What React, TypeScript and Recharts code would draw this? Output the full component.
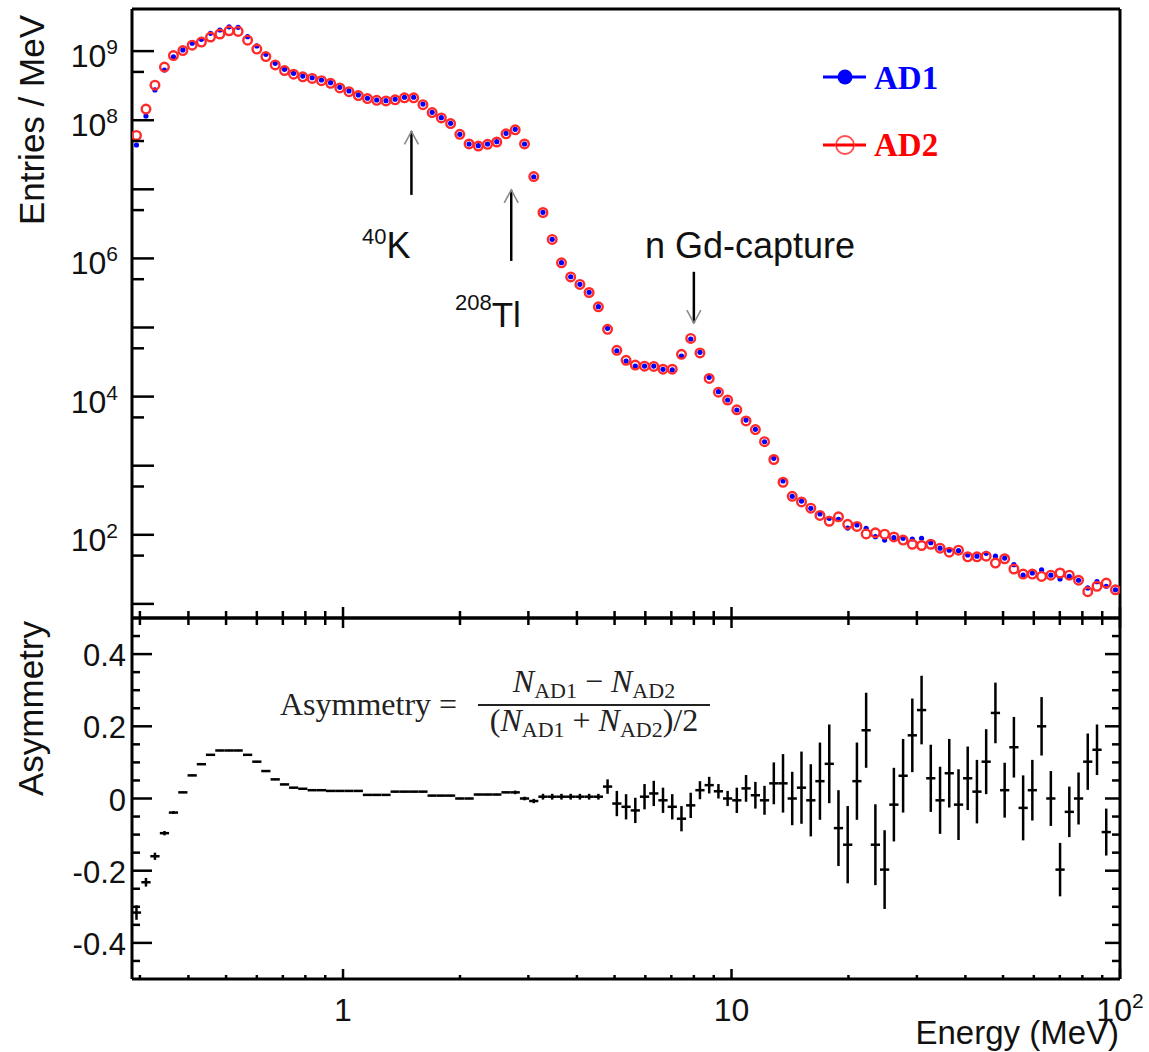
import React from 'react';
import { ComposedChart, Scatter, XAxis, YAxis, ErrorBar, ReferenceLine } from 'recharts';

// ---------- data ----------
// bin centres (MeV), log-uniform bins
const ENERGY = [
  0.294, 0.311, 0.328, 0.347, 0.366, 0.387, 0.409, 0.432, 0.456, 0.482,
  0.509, 0.537, 0.568, 0.600, 0.633, 0.669, 0.707, 0.746, 0.788, 0.833,
  0.880, 0.929, 0.981, 1.036, 1.095, 1.156, 1.221, 1.290, 1.362, 1.439,
  1.520, 1.606, 1.696, 1.791, 1.892, 1.998, 2.111, 2.230, 2.355, 2.488,
  2.628, 2.775, 2.932, 3.097, 3.271, 3.455, 3.650, 3.855, 4.071, 4.300,
  4.543, 4.797, 5.068, 5.353, 5.654, 5.972, 6.308, 6.663, 7.038, 7.434,
  7.852, 8.294, 8.761, 9.254, 9.772, 10.32, 10.90, 11.52, 12.16, 12.85,
  13.57, 14.33, 15.14, 16.00, 16.89, 17.85, 18.85, 19.91, 21.03, 22.21,
  23.46, 24.78, 26.18, 27.65, 29.20, 30.85, 32.58, 34.42, 36.35, 38.40,
  40.55, 42.83, 45.24, 47.79, 50.48, 53.32, 56.32, 59.48, 62.83, 66.37,
  70.10, 74.05, 78.22, 82.60, 87.26, 92.17, 97.34,
];
// log10 width of one bin
const BIN_LOG_WIDTH = 0.02377;

const AD1 = [
  4.38e7, 1.15e8, 2.74e8, 5.33e8, 8.29e8, 1.04e9, 1.30e9, 1.48e9, 1.81e9, 2.02e9,
  2.25e9, 2.21e9, 1.62e9, 1.19e9, 8.99e8, 6.66e8, 5.45e8, 4.77e8, 4.36e8, 4.12e8,
  3.82e8, 3.49e8, 2.99e8, 2.65e8, 2.32e8, 2.08e8, 1.96e8, 1.92e8, 2.01e8, 2.15e8,
  2.15e8, 1.71e8, 1.30e8, 1.09e8, 9.01e7, 6.25e7, 4.53e7, 4.28e7, 4.53e7, 4.89e7,
  6.46e7, 7.38e7, 4.53e7, 1.52e7, 4.64e6, 1.89e6, 8.67e5, 5.43e5, 4.22e5, 3.23e5,
  2.00e5, 9.73e4, 4.61e4, 3.27e4, 2.77e4, 2.77e4, 2.77e4, 2.48e4, 2.43e4, 3.87e4,
  6.82e4, 4.38e4, 1.90e4, 1.18e4, 8.93e3, 6.40e3, 4.58e3, 3.36e3, 2.22e3, 1.28e3,
  601, 361, 308, 242, 200, 173, 168, 125, 139, 124,
  94, 84, 91, 89, 87, 89, 77, 64, 60, 59,
  51, 49, 54, 49, 46, 37, 26, 28, 31, 26,
  23, 25, 22, 17, 21, 18, 16,
];

const AD2 = [
  6.02e7, 1.45e8, 3.22e8, 5.87e8, 8.62e8, 1.02e9, 1.22e9, 1.35e9, 1.60e9, 1.77e9,
  1.97e9, 1.93e9, 1.44e9, 1.07e9, 8.33e8, 6.31e8, 5.24e8, 4.63e8, 4.24e8, 4.03e8,
  3.73e8, 3.42e8, 2.93e8, 2.59e8, 2.27e8, 2.06e8, 1.94e8, 1.90e8, 1.97e8, 2.11e8,
  2.11e8, 1.68e8, 1.29e8, 1.08e8, 8.94e7, 6.25e7, 4.53e7, 4.23e7, 4.48e7, 4.84e7,
  6.35e7, 7.26e7, 4.53e7, 1.53e7, 4.62e6, 1.88e6, 8.63e5, 5.40e5, 4.20e5, 3.21e5,
  1.99e5, 9.41e4, 4.67e4, 3.35e4, 2.86e4, 2.76e4, 2.73e4, 2.49e4, 2.49e4, 4.09e4,
  6.95e4, 4.28e4, 1.83e4, 1.16e4, 8.93e3, 6.43e3, 4.45e3, 3.33e3, 2.23e3, 1.23e3,
  576, 361, 299, 243, 191, 157, 182, 142, 132, 103,
  107, 102, 93, 84, 73, 70, 73, 64, 56, 60,
  48, 48, 49, 39, 45, 32, 27, 27, 25, 26,
  28, 26, 22, 15, 18, 20, 16,
];

const ASYM: (number | null)[] = [
  -0.316, -0.232, -0.16, -0.096, -0.039, 0.017, 0.064, 0.095, 0.121, 0.133,
  0.133, 0.133, 0.121, 0.102, 0.076, 0.053, 0.039, 0.03, 0.027, 0.023,
  0.023, 0.021, 0.021, 0.021, 0.021, 0.01, 0.01, 0.01, 0.019, 0.019,
  0.019, 0.019, 0.008, 0.008, 0.008, 0.0, 0.0, 0.011, 0.011, 0.011,
  0.017, 0.017, 0.0, -0.007, 0.005, 0.005, 0.005, 0.005, 0.005, 0.005,
  0.005, 0.033, -0.014, -0.023, -0.033, 0.005, 0.014, -0.005, -0.023, -0.056,
  -0.019, 0.023, 0.037, 0.02, 0.0, -0.005, 0.028, 0.009, -0.005, 0.042,
  0.042, 0.0, 0.03, -0.005, 0.048, 0.096, -0.082, -0.128, 0.048, 0.189,
  -0.128, -0.197, -0.017, 0.063, 0.175, 0.245, 0.056, -0.005, 0.07, -0.017,
  0.056, 0.019, 0.102, 0.237, 0.023, 0.142, -0.026, 0.023, 0.2, 0.0,
  -0.197, -0.037, 0.0, 0.102, 0.135, -0.093, null,
];

const ASYM_ERR = [
  0.02, 0.012, 0.01, 0.006, 0.004, 0.002, 0.002, 0.002, 0.002, 0.002,
  0.002, 0.002, 0.002, 0.002, 0.002, 0.002, 0.002, 0.002, 0.002, 0.002,
  0.002, 0.002, 0.002, 0.002, 0.002, 0.002, 0.002, 0.002, 0.002, 0.002,
  0.002, 0.002, 0.002, 0.002, 0.002, 0.002, 0.002, 0.002, 0.002, 0.002,
  0.002, 0.005, 0.005, 0.006, 0.008, 0.008, 0.008, 0.008, 0.008, 0.008,
  0.008, 0.02, 0.035, 0.035, 0.035, 0.035, 0.035, 0.035, 0.035, 0.035,
  0.035, 0.025, 0.023, 0.02, 0.021, 0.035, 0.037, 0.037, 0.04, 0.058,
  0.081, 0.074, 0.1, 0.1, 0.107, 0.109, 0.105, 0.107, 0.107, 0.104,
  0.112, 0.109, 0.102, 0.102, 0.102, 0.095, 0.093, 0.093, 0.095, 0.098,
  0.088, 0.088, 0.09, 0.084, 0.076, 0.084, 0.09, 0.084, 0.081, 0.076,
  0.074, 0.07, 0.072, 0.078, 0.07, 0.065, 0,
];

// axis ticks
const X_TICKS = [0.3, 0.4, 0.5, 0.6, 0.7, 0.8, 0.9, 1, 2, 3, 4, 5, 6, 7, 8, 9, 10, 20, 30, 40, 50, 60, 70, 80, 90, 100];
const X_MAJOR = [1, 10, 100];
const Y_TOP_TICKS = [10, 50, 100, 500, 1e3, 5e3, 1e4, 5e4, 1e5, 5e5, 1e6, 5e6, 1e7, 5e7, 1e8, 5e8, 1e9];
const Y_TOP_LABELED_EXP = [2, 4, 6, 8, 9];
const Y_BOT_TICKS = [-0.45, -0.4, -0.35, -0.3, -0.25, -0.2, -0.15, -0.1, -0.05, 0, 0.05, 0.1, 0.15, 0.2, 0.25, 0.3, 0.35, 0.4, 0.45];
const Y_BOT_MAJOR = [-0.4, -0.2, 0, 0.2, 0.4];
const Y_BOT_LABELS = ['-0.4', '-0.2', '0', '0.2', '0.4'];

// annotation arrows (MeV, entries/MeV)
const ARROWS = [
  { name: '40K', x: 1.5, from: 8.3e6, to: 6.9e7 },
  { name: '208Tl', x: 2.71, from: 9.2e5, to: 9.8e6 },
  { name: 'nGd', x: 8.0, from: 6.4e5, to: 1.16e5 },
];

const X_DOMAIN: [number, number] = [0.2863, 100];
const Y_TOP_DOMAIN: [number, number] = [6.25, 4.07e9];
const Y_BOT_DOMAIN: [number, number] = [-0.5, 0.5];

// ---------- derived tables ----------
const ad1Data = ENERGY.map((e, i) => ({ e, y: AD1[i] }));
const ad2Data = ENERGY.map((e, i) => ({ e, y: AD2[i] }));
const asymData = ENERGY.map((e, i) => ({
  e,
  y: ASYM[i],
  yerr: ASYM_ERR[i],
  xerr: [e - e * Math.pow(10, -BIN_LOG_WIDTH / 2), e * Math.pow(10, BIN_LOG_WIDTH / 2) - e],
})).filter((d) => d.y !== null);

const SANS = '"Liberation Sans", Arial, Helvetica, sans-serif';
const SERIF = '"Liberation Serif", "Times New Roman", serif';
const BLACK = '#000';

const near = (a: number, b: number) => Math.abs(a - b) < 1e-9 * Math.max(1, Math.abs(b));
const isMajorX = (v: number) => X_MAJOR.some((m) => near(v, m));

// ---------- tick renderers ----------
const XTickUp = (props: any) => {
  const { x, y, payload } = props;
  const major = isMajorX(payload.value);
  return <line x1={x} y1={y} x2={x} y2={y - (major ? 11 : 7)} stroke={BLACK} strokeWidth={2.5} />;
};
const XTickDown = (props: any) => {
  const { x, y, payload } = props;
  const major = isMajorX(payload.value);
  return <line x1={x} y1={y} x2={x} y2={y + (major ? 10 : 7)} stroke={BLACK} strokeWidth={2.5} />;
};
const XTickBottom = (props: any) => {
  const { x, y, payload } = props;
  const v = payload.value;
  const major = isMajorX(v);
  let label: React.ReactNode = null;
  if (near(v, 1)) label = '1';
  else if (near(v, 10)) label = '10';
  else if (near(v, 100))
    label = (
      <>
        <tspan>10</tspan>
        <tspan dy={-13} fontSize={21}>2</tspan>
      </>
    );
  return (
    <g>
      <line x1={x} y1={y} x2={x} y2={y - (major ? 10 : 4)} stroke={BLACK} strokeWidth={2.5} />
      {label !== null && (
        <text x={x} y={y + 42} textAnchor="middle" fontFamily={SANS} fontSize={32} fill="#111">
          {label}
        </text>
      )}
    </g>
  );
};
const YTickTop = (props: any) => {
  const { x, y, payload } = props;
  const v = payload.value as number;
  const exp = Math.round(Math.log10(v));
  const major = near(v, Math.pow(10, exp));
  const showLabel = major && Y_TOP_LABELED_EXP.includes(exp);
  return (
    <g>
      <line x1={x} y1={y} x2={x + (major ? 22 : 12)} y2={y} stroke={BLACK} strokeWidth={2.5} />
      {showLabel && (
        <text x={x - 14} y={y + 16} textAnchor="end" fontFamily={SANS} fontSize={32} fill="#111">
          <tspan>10</tspan>
          <tspan dy={-13} fontSize={21}>{String(exp)}</tspan>
        </text>
      )}
    </g>
  );
};
const YTickBotLeft = (props: any) => {
  const { x, y, payload } = props;
  const v = payload.value as number;
  const mi = Y_BOT_MAJOR.findIndex((m) => Math.abs(m - v) < 1e-6);
  const major = mi >= 0;
  return (
    <g>
      <line x1={x} y1={y} x2={x + (major ? 20 : 8)} y2={y} stroke={BLACK} strokeWidth={2.5} />
      {major && (
        <text x={x - 6} y={y + 12} textAnchor="end" fontFamily={SANS} fontSize={31} fill="#111">
          {Y_BOT_LABELS[mi]}
        </text>
      )}
    </g>
  );
};
const YTickBotRight = (props: any) => {
  const { x, y, payload } = props;
  const v = payload.value as number;
  const major = Y_BOT_MAJOR.some((m) => Math.abs(m - v) < 1e-6);
  return <line x1={x} y1={y} x2={x - (major ? 15 : 8)} y2={y} stroke={BLACK} strokeWidth={2.5} />;
};

const ArrowShape = (props: any) => {
  const { x1, y1, x2, y2 } = props;
  if ([x1, y1, x2, y2].some((v) => typeof v !== 'number' || isNaN(v))) return <g />;
  const dx = x2 - x1;
  const dy = y2 - y1;
  const L = Math.hypot(dx, dy) || 1;
  const ux = dx / L;
  const uy = dy / L;
  const hl = 13;
  const hw = 7;
  const bx = x2 - ux * hl;
  const by = y2 - uy * hl;
  return (
    <g>
      <line x1={x1} y1={y1} x2={x2} y2={y2} stroke={BLACK} strokeWidth={2.5} />
      <polyline
        points={`${bx - uy * hw},${by + ux * hw} ${x2},${y2} ${bx + uy * hw},${by - ux * hw}`}
        fill="none"
        stroke="#8a8a8a"
        strokeWidth={1.6}
      />
    </g>
  );
};

const Ad1Dot = (p: any) => <circle cx={p.cx} cy={p.cy} r={2.6} fill="#0000ff" />;
const Ad2Ring = (p: any) => (
  <circle cx={p.cx} cy={p.cy} r={4.3} fill="none" stroke="#ff2a2a" strokeWidth={2.4} />
);
const NoShape = () => <g />;

const axisLine = { stroke: BLACK, strokeWidth: 3 };

export default function App() {
  return (
    <div style={{ position: 'absolute', left: 0, top: 0, width: 1149, height: 1052, background: '#fff' }}>
      {/* upper panel: spectra */}
      <div style={{ position: 'absolute', left: 0, top: 0 }}>
        <ComposedChart width={1149} height={622} margin={{ top: 8, right: 28, bottom: 3, left: 131 }}>
          <XAxis
            dataKey="e"
            type="number"
            scale="log"
            domain={X_DOMAIN}
            allowDataOverflow
            ticks={X_TICKS}
            interval={0}
            height={1}
            tickSize={0}
            tickMargin={0}
            tickLine={false}
            axisLine={axisLine}
            tick={(p: any) => <XTickUp {...p} />}
          />
          <XAxis
            xAxisId="t"
            orientation="top"
            dataKey="e"
            type="number"
            scale="log"
            domain={X_DOMAIN}
            allowDataOverflow
            height={1}
            tick={false}
            tickLine={false}
            axisLine={axisLine}
          />
          <YAxis
            dataKey="y"
            type="number"
            scale="log"
            domain={Y_TOP_DOMAIN}
            allowDataOverflow
            ticks={Y_TOP_TICKS}
            interval={0}
            width={1}
            tickSize={0}
            tickMargin={0}
            tickLine={false}
            axisLine={axisLine}
            tick={(p: any) => <YTickTop {...p} />}
          />
          <YAxis
            yAxisId="r"
            orientation="right"
            type="number"
            scale="log"
            domain={Y_TOP_DOMAIN}
            allowDataOverflow
            width={1}
            tick={false}
            tickLine={false}
            axisLine={axisLine}
          />
          <Scatter name="AD1" data={ad1Data} dataKey="y" shape={Ad1Dot} isAnimationActive={false} />
          <Scatter name="AD2" data={ad2Data} dataKey="y" shape={Ad2Ring} isAnimationActive={false} />
          {ARROWS.map((a) => (
            <ReferenceLine
              key={a.name}
              segment={[
                { x: a.x, y: a.from },
                { x: a.x, y: a.to },
              ]}
              ifOverflow="visible"
              shape={ArrowShape}
            />
          ))}
        </ComposedChart>
      </div>

      {/* lower panel: asymmetry */}
      <div style={{ position: 'absolute', left: 0, top: 0 }}>
        <ComposedChart width={1149} height={1052} margin={{ top: 617, right: 28, bottom: 72, left: 131 }}>
          <XAxis
            dataKey="e"
            type="number"
            scale="log"
            domain={X_DOMAIN}
            allowDataOverflow
            ticks={X_TICKS}
            interval={0}
            height={1}
            tickSize={0}
            tickMargin={0}
            tickLine={false}
            axisLine={axisLine}
            tick={(p: any) => <XTickBottom {...p} />}
          />
          <XAxis
            xAxisId="t"
            orientation="top"
            dataKey="e"
            type="number"
            scale="log"
            domain={X_DOMAIN}
            allowDataOverflow
            ticks={X_TICKS}
            interval={0}
            height={1}
            tickSize={0}
            tickMargin={0}
            tickLine={false}
            axisLine={axisLine}
            tick={(p: any) => <XTickDown {...p} />}
          />
          <YAxis
            dataKey="y"
            type="number"
            domain={Y_BOT_DOMAIN}
            allowDataOverflow
            ticks={Y_BOT_TICKS}
            interval={0}
            width={1}
            tickSize={0}
            tickMargin={0}
            tickLine={false}
            axisLine={axisLine}
            tick={(p: any) => <YTickBotLeft {...p} />}
          />
          <YAxis
            yAxisId="r"
            orientation="right"
            type="number"
            domain={Y_BOT_DOMAIN}
            allowDataOverflow
            ticks={Y_BOT_TICKS}
            interval={0}
            width={1}
            tickSize={0}
            tickMargin={0}
            tickLine={false}
            axisLine={axisLine}
            tick={(p: any) => <YTickBotRight {...p} />}
          />
          <Scatter name="Asymmetry" data={asymData} dataKey="y" shape={NoShape} isAnimationActive={false}>
            <ErrorBar dataKey="xerr" direction="x" width={0} stroke={BLACK} strokeWidth={2.5} isAnimationActive={false} />
            <ErrorBar dataKey="yerr" direction="y" width={0} stroke={BLACK} strokeWidth={2.5} isAnimationActive={false} />
          </Scatter>
        </ComposedChart>
      </div>

      {/* titles, legend, annotations */}
      <svg
        width={1149}
        height={1052}
        style={{ position: 'absolute', left: 0, top: 0, pointerEvents: 'none' }}
      >
        <text x={44} y={15} transform="rotate(-90 44 15)" textAnchor="end" fontFamily={SANS} fontSize={35} fill="#111">
          Entries / MeV
        </text>
        <text x={43} y={621} transform="rotate(-90 43 621)" textAnchor="end" fontFamily={SANS} fontSize={35} fill="#111">
          Asymmetry
        </text>
        <text x={1119} y={1044} textAnchor="end" fontFamily={SANS} fontSize={33} fill="#111">
          Energy (MeV)
        </text>

        {/* legend */}
        <line x1={823} y1={77} x2={866} y2={77} stroke="#0000ff" strokeWidth={3} />
        <circle cx={845} cy={77} r={7.5} fill="#0000ff" />
        <text x={874} y={89} fill="#0000ff" fontFamily={SERIF} fontWeight="bold" fontSize={33}>
          AD1
        </text>
        <line x1={823} y1={145} x2={866} y2={145} stroke="#ff0000" strokeWidth={3} />
        <circle cx={845} cy={145} r={9} fill="#fff" stroke="#ff5050" strokeWidth={1.8} />
        <line x1={836} y1={145} x2={854} y2={145} stroke="#ff0000" strokeWidth={3} />
        <text x={874} y={156} fill="#ff0000" fontFamily={SERIF} fontWeight="bold" fontSize={33}>
          AD2
        </text>

        {/* peak labels */}
        <text x={362} y={258} fontFamily={SANS} fill="#111">
          <tspan fontSize={22} dy={-14}>40</tspan>
          <tspan fontSize={36} dy={14}>K</tspan>
        </text>
        <text x={455} y={327} fontFamily={SANS} fill="#111">
          <tspan fontSize={22} dy={-17}>208</tspan>
          <tspan fontSize={35} dy={17}>Tl</tspan>
        </text>
        <text x={645} y={258} fontFamily={SANS} fontSize={36} fill="#111">
          n Gd-capture
        </text>

        {/* asymmetry formula */}
        <text x={280} y={715} fontFamily={SERIF} fontSize={32} fill="#222">
          Asymmetry =
        </text>
        <line x1={478} y1={705} x2={710} y2={705} stroke="#222" strokeWidth={2} />
        <text x={594} y={692} textAnchor="middle" fontFamily={SERIF} fontSize={32} fill="#222">
          <tspan fontStyle="italic">N</tspan>
          <tspan fontSize={22} dy={6}>AD1</tspan>
          <tspan dy={-6}> − </tspan>
          <tspan fontStyle="italic">N</tspan>
          <tspan fontSize={22} dy={6}>AD2</tspan>
        </text>
        <text x={594} y={731} textAnchor="middle" fontFamily={SERIF} fontSize={32} fill="#222">
          <tspan>(</tspan>
          <tspan fontStyle="italic">N</tspan>
          <tspan fontSize={22} dy={6}>AD1</tspan>
          <tspan dy={-6}> + </tspan>
          <tspan fontStyle="italic">N</tspan>
          <tspan fontSize={22} dy={6}>AD2</tspan>
          <tspan dy={-6}>)/2</tspan>
        </text>
      </svg>
    </div>
  );
}
